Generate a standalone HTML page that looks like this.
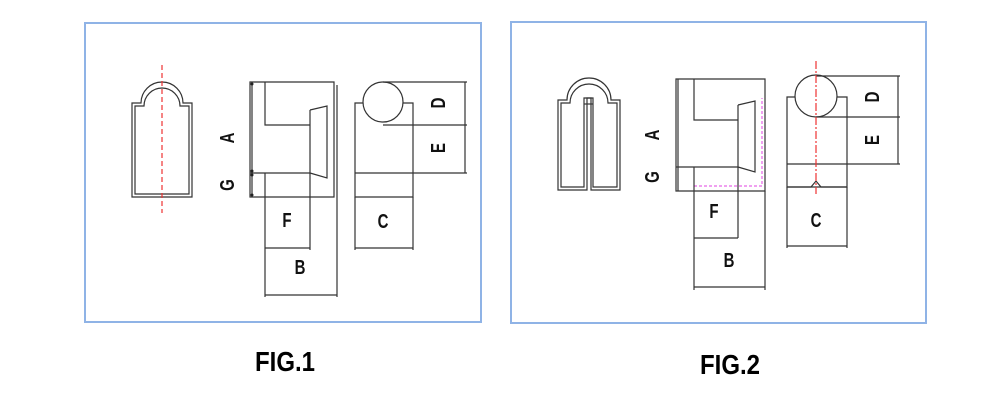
<!DOCTYPE html>
<html><head><meta charset="utf-8"><style>
html,body{margin:0;padding:0;background:#fff;width:995px;height:400px;overflow:hidden}
svg{display:block}
.l{stroke:#333;stroke-width:1.2;fill:none}
.t{font-family:"Liberation Sans Narrow","Liberation Sans",sans-serif;font-size:20px;font-weight:bold;fill:#111}
.fig{font-family:"Liberation Sans",sans-serif;font-weight:bold;font-size:24px;fill:#000}
</style></head><body>
<svg width="995" height="400" viewBox="0 0 995 400">
<rect x="85" y="23" width="396" height="299" fill="none" stroke="#8fb3e6" stroke-width="2"/>
<rect x="511" y="22" width="415" height="301" fill="none" stroke="#8fb3e6" stroke-width="2"/>

<!-- FIG1 profile -->
<path class="l" d="M132 197 V103 H141 A21 21 0 0 1 183 103 H192 V197 Z"/>
<path class="l" d="M135 194 V106 H144 A18 18 0 0 1 180 106 H189 V194 Z"/>
<line x1="162" y1="65" x2="162" y2="213" stroke="#e33" stroke-width="1.2" stroke-dasharray="5,3"/>
<!-- FIG1 side -->
<path class="l" d="M250 82 H334 V197 H250 Z"/>
<line class="l" x1="337" y1="85" x2="337" y2="297"/>
<path class="l" d="M265 82 V125 H310"/>
<line class="l" x1="310" y1="110" x2="310" y2="250"/>
<path class="l" d="M310 110 L327 106 V178 L310 173"/>
<line class="l" x1="250" y1="173" x2="310" y2="173"/>
<line class="l" x1="265" y1="173" x2="265" y2="297"/>
<line class="l" x1="252" y1="82" x2="252" y2="197"/>
<circle cx="252" cy="84" r="1.5" fill="#222"/><circle cx="252" cy="171" r="1.5" fill="#222"/>
<circle cx="252" cy="175" r="1.5" fill="#222"/><circle cx="252" cy="195" r="1.5" fill="#222"/>
<line class="l" x1="265" y1="248" x2="310" y2="248"/>
<line class="l" x1="265" y1="295" x2="337" y2="295"/>
<text class="t" transform="translate(234,138) rotate(-90) scale(0.75,1)" text-anchor="middle">A</text>
<text class="t" transform="translate(234,185) rotate(-90) scale(0.75,1)" text-anchor="middle">G</text>
<text class="t" transform="translate(287,227) scale(0.75,1)" text-anchor="middle">F</text>
<text class="t" transform="translate(300,274) scale(0.75,1)" text-anchor="middle">B</text>
<!-- FIG1 front -->
<path class="l" d="M363 103 H355 V197 H413 V103 H403"/>
<circle class="l" cx="383" cy="102" r="20" fill="#fff"/>
<line class="l" x1="355" y1="173" x2="467" y2="173"/>
<line class="l" x1="383" y1="82" x2="467" y2="82"/>
<line class="l" x1="383" y1="125" x2="467" y2="125"/>
<line class="l" x1="465" y1="82" x2="465" y2="173"/>
<line class="l" x1="355" y1="197" x2="355" y2="250"/><line class="l" x1="413" y1="197" x2="413" y2="250"/>
<line class="l" x1="355" y1="248" x2="413" y2="248"/>
<text class="t" transform="translate(383,228) scale(0.75,1)" text-anchor="middle">C</text>
<text class="t" transform="translate(445,103) rotate(-90) scale(0.75,1)" text-anchor="middle">D</text>
<text class="t" transform="translate(445,148) rotate(-90) scale(0.75,1)" text-anchor="middle">E</text>

<!-- FIG2 profile -->
<path class="l" d="M558 190 V100 H567 A22 22 0 0 1 611 100 H620 V190 H591 V98 H587 V190 Z"/>
<path class="l" d="M561 187 V103 H570 A19 19 0 0 1 608 103 H617 V187 H593 V98 H584 V187 Z"/>
<line class="l" x1="584" y1="104" x2="593" y2="104"/>
<!-- FIG2 side -->
<path class="l" d="M676 79 H765 V191 H676 Z"/>
<path class="l" d="M694 79 V120 H738"/>
<line class="l" x1="738" y1="105" x2="738" y2="238"/>
<path class="l" d="M738 105 L755 101 V172 L738 167"/>
<line class="l" x1="676" y1="167" x2="738" y2="167"/>
<polyline points="694,186 762,186 762,98" fill="none" stroke="#e040e0" stroke-width="1" stroke-dasharray="3,2"/>
<line class="l" x1="678" y1="79" x2="678" y2="191"/>
<line class="l" x1="694" y1="167" x2="694" y2="290"/>
<line class="l" x1="765" y1="191" x2="765" y2="290"/>
<line class="l" x1="694" y1="238" x2="738" y2="238"/>
<line class="l" x1="694" y1="287" x2="765" y2="287"/>
<text class="t" transform="translate(659,135) rotate(-90) scale(0.75,1)" text-anchor="middle">A</text>
<text class="t" transform="translate(659,177) rotate(-90) scale(0.75,1)" text-anchor="middle">G</text>
<text class="t" transform="translate(714,218) scale(0.75,1)" text-anchor="middle">F</text>
<text class="t" transform="translate(729,267) scale(0.75,1)" text-anchor="middle">B</text>
<!-- FIG2 front -->
<path class="l" d="M795 97 H787 V187 H847 V97 H837"/>
<circle class="l" cx="816" cy="96" r="21" fill="#fff"/>
<line class="l" x1="787" y1="164" x2="900" y2="164"/>
<line class="l" x1="816" y1="76" x2="900" y2="76"/>
<line class="l" x1="816" y1="117" x2="900" y2="117"/>
<line class="l" x1="898" y1="76" x2="898" y2="164"/>
<path class="l" d="M787 187 H811 L816 181 L821 187 H847"/>
<line x1="816" y1="61" x2="816" y2="194" stroke="#e33" stroke-width="1.2" stroke-dasharray="8,2,2,2"/>
<line class="l" x1="787" y1="187" x2="787" y2="248"/><line class="l" x1="847" y1="187" x2="847" y2="248"/>
<line class="l" x1="787" y1="246" x2="847" y2="246"/>
<text class="t" transform="translate(816,227) scale(0.75,1)" text-anchor="middle">C</text>
<text class="t" transform="translate(879,97) rotate(-90) scale(0.75,1)" text-anchor="middle">D</text>
<text class="t" transform="translate(879,140) rotate(-90) scale(0.75,1)" text-anchor="middle">E</text>

<text class="fig" transform="translate(255,371) scale(1,1.15)">FIG.1</text>
<text class="fig" transform="translate(700,374) scale(1,1.15)">FIG.2</text>
</svg>
</body></html>
